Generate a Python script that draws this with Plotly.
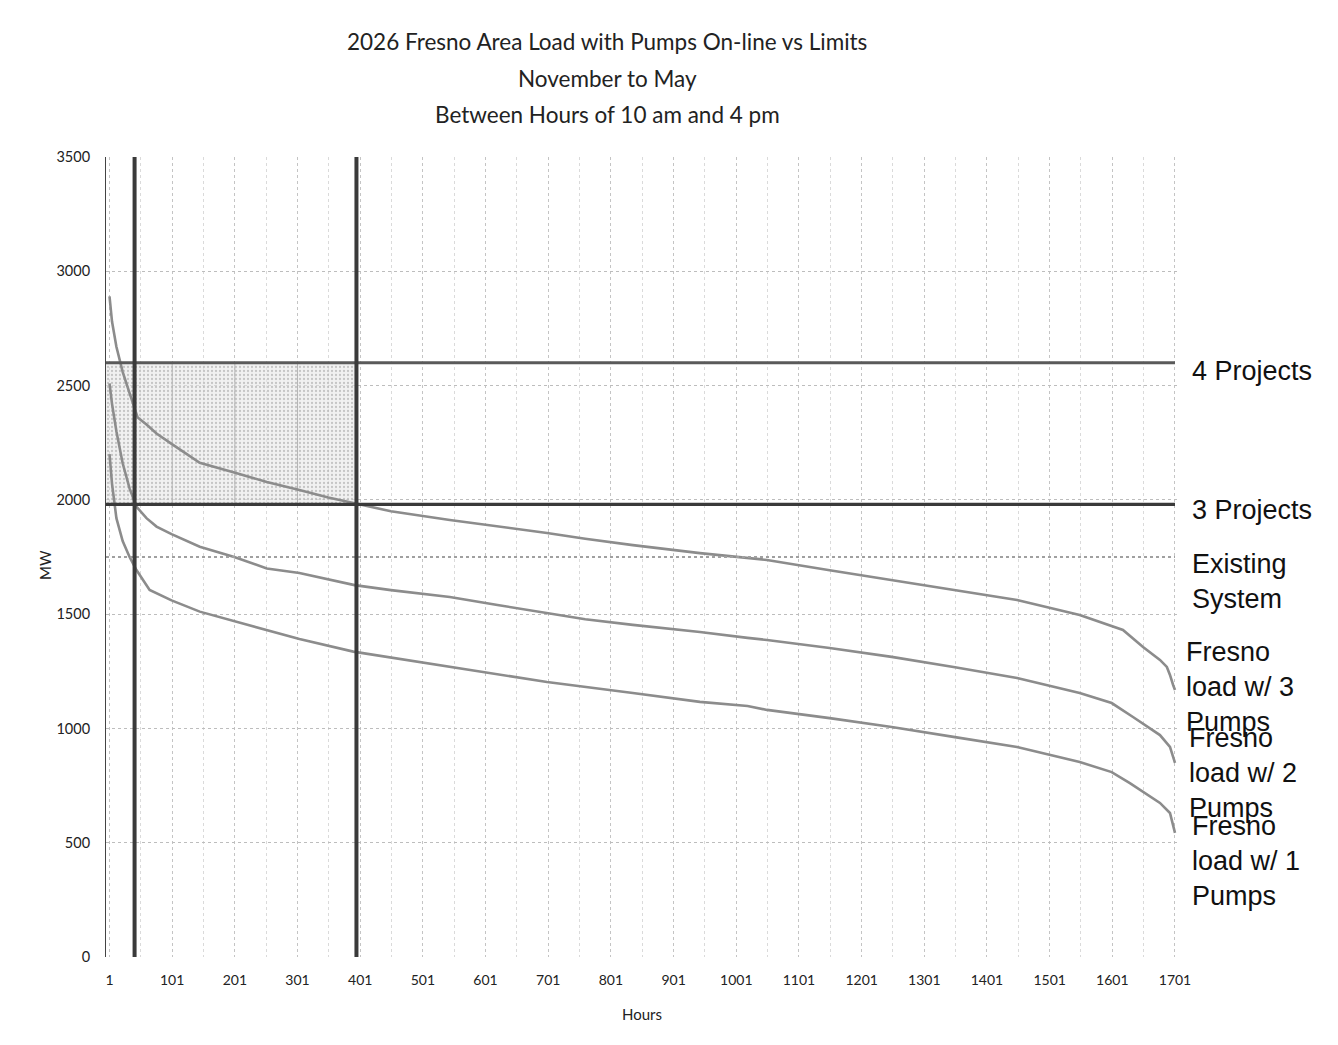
import plotly.graph_objects as go

# ---------------- data ----------------
hours_3 = [1, 5, 12, 22, 33, 46, 60, 76, 100, 145, 200, 252, 304, 350, 392, 450, 544, 620, 699, 760, 836, 943, 1019, 1050, 1150, 1249, 1350, 1449, 1549, 1600, 1618, 1650, 1677, 1688, 1693, 1698, 1701]
load_3 = [2890, 2780, 2670, 2560, 2467, 2360, 2330, 2290, 2245, 2162, 2120, 2078, 2043, 2010, 1985, 1950, 1912, 1885, 1855, 1830, 1802, 1767, 1745, 1737, 1692, 1649, 1605, 1562, 1496, 1448, 1431, 1356, 1300, 1269, 1234, 1190, 1168]

hours_2 = [1, 5, 12, 22, 33, 44, 60, 76, 100, 145, 200, 252, 304, 350, 392, 450, 544, 620, 699, 760, 836, 943, 1019, 1050, 1150, 1249, 1350, 1449, 1549, 1600, 1634, 1677, 1693, 1698, 1701]
load_2 = [2510, 2420, 2300, 2160, 2050, 1970, 1920, 1883, 1850, 1795, 1750, 1700, 1680, 1652, 1627, 1605, 1575, 1540, 1505, 1478, 1453, 1422, 1396, 1387, 1352, 1313, 1268, 1221, 1155, 1111, 1050, 971, 919, 870, 849]

hours_1 = [1, 5, 12, 22, 33, 44, 65, 100, 145, 200, 252, 304, 390, 450, 544, 620, 699, 836, 943, 1019, 1050, 1150, 1249, 1350, 1449, 1549, 1600, 1629, 1677, 1693, 1698, 1701]
load_1 = [2200, 2070, 1920, 1820, 1750, 1693, 1606, 1560, 1511, 1470, 1431, 1391, 1336, 1310, 1269, 1235, 1203, 1155, 1116, 1098, 1081, 1045, 1006, 962, 919, 853, 809, 761, 674, 630, 580, 543]

limit_names = ["4 Projects", "3 Projects", "Existing System"]
limit_values = [2600, 1980, 1750]

marker_hours = [41, 395]

x_tick_vals = list(range(1, 1702, 100))
x_tick_text = [str(v) for v in x_tick_vals]
y_tick_vals = [0, 500, 1000, 1500, 2000, 2500, 3000, 3500]

X_MIN, X_MAX = -4.6, 1704.2
Y_MIN, Y_MAX = 0, 3500

# ---------------- figure ----------------
fig = go.Figure()

# shaded region between 3 and 4 project limits up to the right marker line
fig.add_trace(go.Scatter(
    x=[X_MIN, marker_hours[1], marker_hours[1], X_MIN, X_MIN],
    y=[limit_values[1], limit_values[1], limit_values[0], limit_values[0], limit_values[1]],
    mode="lines", fill="toself",
    fillcolor="rgba(215,215,215,0.45)",
    fillpattern=dict(shape=".", fgcolor="#9a9a9a", bgcolor="rgba(232,232,232,0.6)", size=4, solidity=0.25),
    line=dict(width=0), hoverinfo="skip", showlegend=False))

# darker grid lines inside shaded region
for h in [101, 201, 301]:
    fig.add_trace(go.Scatter(x=[h, h], y=[limit_values[1], limit_values[0]], mode="lines",
                             line=dict(color="#b5b5b5", width=1), showlegend=False, hoverinfo="skip"))

# load curves
for hx, ly in [(hours_3, load_3), (hours_2, load_2), (hours_1, load_1)]:
    fig.add_trace(go.Scatter(x=hx, y=ly, mode="lines",
                             line=dict(color="#8c8c8c", width=2.6), showlegend=False))

# limit lines
limit_styles = [dict(color="#5a5a5a", width=3),
                dict(color="#3a3a3a", width=3.2),
                dict(color="#a0a0a0", width=2, dash="dot")]
for v, st in zip(limit_values, limit_styles):
    fig.add_trace(go.Scatter(x=[X_MIN, 1701], y=[v, v], mode="lines", line=st, showlegend=False))

# vertical marker lines
for h in marker_hours:
    fig.add_trace(go.Scatter(x=[h, h], y=[Y_MIN, Y_MAX], mode="lines",
                             line=dict(color="#3a3a3a", width=4), showlegend=False))

# page offset (browser body margin)
OFF = 8
W, H = 1322, 1029
L, T = 106 - OFF, 157 - OFF
R = W - (1177 - OFF)
B = H - (957 - OFF)
PW, PH = W - L - R, H - T - B

def px(xp):
    return (xp - OFF - L) / PW

def py(yp):
    return (H - B - (yp - OFF)) / PH

annotations = []
# title lines
for txt, yy in [("2026 Fresno Area Load with Pumps On-line vs Limits", 42),
                ("November to May", 78),
                ("Between Hours of 10 am and 4 pm", 114)]:
    annotations.append(dict(text=txt, xref="paper", yref="paper", x=px(607), y=py(yy),
                            xanchor="center", yanchor="middle", showarrow=False,
                            font=dict(family="Lato", size=22.5, color="#222")))

# right labels
right_labels = [("4 Projects", 1190, 371),
                ("3 Projects", 1190, 510),
                ("Existing<br>System", 1190, 581),
                ("Fresno<br>load w/ 3<br>Pumps", 1184, 687),
                ("Fresno<br>load w/ 2<br>Pumps", 1187, 773),
                ("Fresno<br>load w/ 1<br>Pumps", 1190, 861)]
for txt, xx, yy in right_labels:
    annotations.append(dict(text=txt, xref="paper", yref="paper", x=px(xx), y=py(yy),
                            xanchor="left", yanchor="middle", align="left", showarrow=False,
                            font=dict(family="Liberation Sans", size=27, color="#111")))

annotations.append(dict(text="MW", xref="paper", yref="paper", x=px(45), y=py(565),
                        xanchor="center", yanchor="middle", textangle=-90, showarrow=False,
                        font=dict(family="Lato", size=15, color="#222")))
annotations.append(dict(text="Hours", xref="paper", yref="paper", x=px(642), y=py(1014),
                        xanchor="center", yanchor="middle", showarrow=False,
                        font=dict(family="Lato", size=15, color="#222")))

fig.update_layout(
    width=W, height=H,
    margin=dict(l=L, r=R, t=T, b=B, autoexpand=False),
    paper_bgcolor="white", plot_bgcolor="white",
    annotations=annotations,
    showlegend=False,
    xaxis=dict(range=[X_MIN, X_MAX], tickmode="array", tickvals=x_tick_vals, ticktext=x_tick_text,
               showgrid=True, gridcolor="#c4c4c4", griddash="dot", gridwidth=1,
               minor=dict(dtick=50, tick0=1, showgrid=True, gridcolor="#dadada", griddash="dot"),
               zeroline=False, showline=False, ticks="", ticklen=0, ticklabelstandoff=13,
               tickfont=dict(family="Lato", size=14, color="#222")),
    yaxis=dict(range=[Y_MIN, Y_MAX], tickmode="array", tickvals=y_tick_vals,
               showgrid=True, gridcolor="#bdbdbd", griddash="dot", gridwidth=1,
               zeroline=False, showline=True, linecolor="#444", linewidth=1,
               ticks="", ticklabelstandoff=12,
               tickfont=dict(family="Lato", size=14.5, color="#222")),
)

fig.write_html("out.html")
